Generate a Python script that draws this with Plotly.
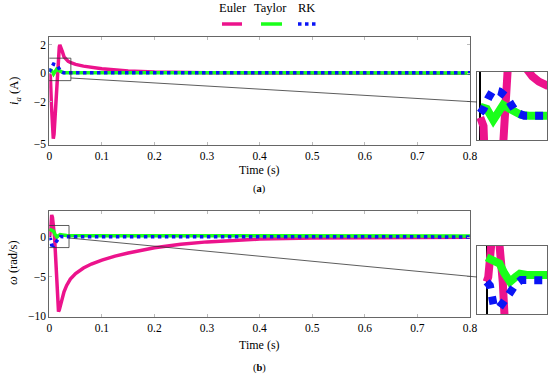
import plotly.graph_objects as go

# ---------------- data ----------------
# (a) armature current i_a
t_ia_euler = [0, 0.002, 0.004, 0.006, 0.0076, 0.009, 0.011, 0.013, 0.015, 0.017, 0.019, 0.020,
              0.022, 0.025, 0.028, 0.032, 0.036, 0.041, 0.05, 0.065, 0.08, 0.1, 0.15, 0.2, 0.3,
              0.5, 0.8]
ia_euler = [0, -0.2, -2.2, -4.0, -4.6, -4.3, -3.0, -1.3, 0.1, 1.2, 1.85, 2.0,
            1.85, 1.5, 1.15, 0.95, 0.83, 0.74, 0.62, 0.5, 0.41, 0.32, 0.16, 0.08, 0.03,
            0.0, 0.0]
t_ia_taylor = [0, 0.004, 0.008, 0.011, 0.014, 0.018, 0.0213, 0.025, 0.03, 0.1, 0.8]
ia_taylor = [0.25, 0.2, -0.06, 0.1, 0.29, 0.2, 0.14, 0.06, 0.04, 0.03, 0.02]
t_ia_rk = [0, 0.002, 0.005, 0.008, 0.012, 0.016, 0.019, 0.022, 0.027, 0.1, 0.8]
ia_rk = [0.1, 0.2, 0.45, 0.64, 0.6, 0.48, 0.3, 0.12, 0.04, 0.03, 0.03]

# (b) speed omega
t_w_euler = [0, 0.001, 0.002, 0.003, 0.0045, 0.006, 0.008, 0.010, 0.012, 0.014, 0.016, 0.0175,
             0.019, 0.021, 0.024, 0.028, 0.033, 0.04, 0.05, 0.065, 0.08, 0.1, 0.125, 0.15,
             0.2, 0.25, 0.3, 0.35, 0.4, 0.5, 0.6, 0.7, 0.8]
w_euler = [0, 0.2, 0.9, 2.0, 2.8, 2.5, 1.5, 0.0, -2.5, -5.5, -8.2, -9.4,
           -9.2, -8.6, -7.8, -6.9, -6.1, -5.3, -4.6, -3.9, -3.4, -2.9, -2.4, -2.0,
           -1.35, -0.9, -0.6, -0.4, -0.25, -0.1, -0.04, -0.01, 0]
t_w_taylor = [0, 0.004, 0.008, 0.011, 0.0145, 0.018, 0.0206, 0.025, 0.033, 0.1, 0.8]
w_taylor = [1.0, 0.85, 0.75, 0.35, 0.0, 0.2, 0.33, 0.28, 0.2, 0.17, 0.15]
t_w_rk = [0, 0.002, 0.0045, 0.008, 0.0135, 0.018, 0.0213, 0.03, 0.8]
w_rk = [0, -0.15, -1.0, -1.05, -0.55, -0.1, 0.07, 0.05, 0.03]

x_ticks = [0, 0.1, 0.2, 0.3, 0.4, 0.5, 0.6, 0.7, 0.8]
x_ticktext = ["0", "0.1", "0.2", "0.3", "0.4", "0.5", "0.6", "0.7", "0.8"]
ia_ticks = [-5, -2, 0, 2]
ia_ticktext = ["\u22125", "\u22122", "0", "2"]
w_ticks = [-10, -5, 0]
w_ticktext = ["\u221210", "\u22125", "0"]
series_names = ["Euler", "Taylor", "RK"]

# ---------------- style ----------------
W, H = 550, 378
PINK, GREEN, BLUE = "#EC138C", "#1AFF1A", "#0A14F5"
FONT = "Liberation Serif"
def px(x): return x / W
def py(y): return 1 - y / H

fig = go.Figure()

def add_series(t, v, color, dash, width, xa, ya, name):
    fig.add_trace(go.Scatter(x=t, y=v, mode="lines", name=name, showlegend=False,
                             line=dict(color=color, width=width, dash=dash),
                             xaxis=xa, yaxis=ya, hoverinfo="skip"))

panels = [
    ("x", "y", "x3", "y3", (t_ia_euler, ia_euler), (t_ia_taylor, ia_taylor), (t_ia_rk, ia_rk)),
    ("x2", "y2", "x4", "y4", (t_w_euler, w_euler), (t_w_taylor, w_taylor), (t_w_rk, w_rk)),
]
for xa, ya, xi, yi, e, tay, rk in panels:
    add_series(*e, PINK, "solid", 3.5, xa, ya, series_names[0])
    add_series(*tay, GREEN, "solid", 3.5, xa, ya, series_names[1])
    add_series(*rk, BLUE, "dot", 3.5, xa, ya, series_names[2])
    add_series(*e, PINK, "solid", 8, xi, yi, series_names[0])
    add_series(*tay, GREEN, "solid", 8, xi, yi, series_names[1])
    add_series(*rk, BLUE, "dot", 8, xi, yi, series_names[2])

axis_common = dict(showline=True, linecolor="#666", linewidth=1, mirror="ticks",
                   ticks="inside", ticklen=3, tickcolor="#bbb", showgrid=False,
                   zeroline=False, automargin=False,
                   tickfont=dict(family=FONT, size=11.5, color="black"))
inset_common = dict(showticklabels=False, showline=True, mirror=True, linecolor="#666",
                    showgrid=False, automargin=False, ticks="")

xdom = [px(49.3), px(470)]
fig.update_layout(
    width=W, height=H, margin=dict(l=0, r=0, t=0, b=0, autoexpand=False),
    plot_bgcolor="white", paper_bgcolor="white",
    font=dict(family=FONT, color="black"),
    xaxis=dict(domain=xdom, range=[0, 0.8], tickvals=x_ticks, ticktext=x_ticktext,
               anchor="y", **axis_common),
    yaxis=dict(domain=[py(145), py(37)], range=[-5.05, 2.55], tickvals=ia_ticks,
               ticktext=ia_ticktext, anchor="x", **axis_common),
    xaxis2=dict(domain=xdom, range=[0, 0.8], tickvals=x_ticks, ticktext=x_ticktext,
                anchor="y2", **axis_common),
    yaxis2=dict(domain=[py(316.7), py(211)], range=[-10.05, 3.3], tickvals=w_ticks,
                ticktext=w_ticktext, anchor="x2", **axis_common),
    xaxis3=dict(domain=[px(477), px(547)], range=[-0.002, 0.041], anchor="y3",
                zeroline=True, zerolinecolor="black", zerolinewidth=1.5, **inset_common),
    yaxis3=dict(domain=[py(140), py(71.7)], range=[-0.52, 1.06], anchor="x3",
                zeroline=False, **inset_common),
    xaxis4=dict(domain=[px(477), px(547)], range=[-0.006, 0.0375], anchor="y4",
                zeroline=True, zerolinecolor="black", zerolinewidth=1.5, **inset_common),
    yaxis4=dict(domain=[py(314), py(246)], range=[-1.32, 1.47], anchor="x4",
                zeroline=False, **inset_common),
)

shapes = []
# zoom rectangles
shapes.append(dict(type="rect", xref="x", yref="y", x0=-0.002, x1=0.041, y0=-0.52, y1=1.06,
                   line=dict(color="#333", width=0.8)))
shapes.append(dict(type="rect", xref="x2", yref="y2", x0=-0.006, x1=0.0375, y0=-1.32, y1=1.47,
                   line=dict(color="#333", width=0.8)))
# connector lines
shapes.append(dict(type="line", xref="paper", yref="paper", x0=px(71), y0=py(78),
                   x1=px(477), y1=py(102), line=dict(color="#333", width=0.8)))
shapes.append(dict(type="line", xref="paper", yref="paper", x0=px(69), y0=py(238),
                   x1=px(477), y1=py(277), line=dict(color="#333", width=0.8)))
# legend symbols
leg = [(222, 242, PINK, "solid"), (261, 282, GREEN, "solid"), (298, 316, BLUE, "dot")]
for x0, x1, c, d in leg:
    shapes.append(dict(type="line", xref="paper", yref="paper", x0=px(x0), x1=px(x1),
                       y0=py(24), y1=py(24), line=dict(color=c, width=3.5, dash=d)))
fig.update_layout(shapes=shapes)

ann = []
for name, xc in zip(series_names, [232.5, 270.5, 306.5]):
    ann.append(dict(text=name, x=px(xc), y=py(8), size=12.5))
ann += [
    dict(text="<i>i<sub>a</sub></i> (A)", x=px(15), y=py(91), textangle=-90, size=12.5),
    dict(text="<i>ω</i> (rad/s)", x=px(13), y=py(263), textangle=-90, size=12.5),
    dict(text="Time (s)", x=px(259.5), y=py(170), size=12),
    dict(text="Time (s)", x=px(259.5), y=py(345), size=12),
    dict(text="(<b>a</b>)", x=px(259.5), y=py(189), size=10.5),
    dict(text="(<b>b</b>)", x=px(259.5), y=py(368), size=10.5),
]
for a in ann:
    a["xref"] = "paper"
    a["yref"] = "paper"
    a["xanchor"] = "center"
    a["yanchor"] = "middle"
    a["showarrow"] = False
    a["font"] = dict(family=FONT, size=a.pop("size"), color="black")
fig.update_layout(annotations=ann)

fig.write_html("out.html", config={"displayModeBar": False},
               post_script="document.body.style.margin='0px';")
